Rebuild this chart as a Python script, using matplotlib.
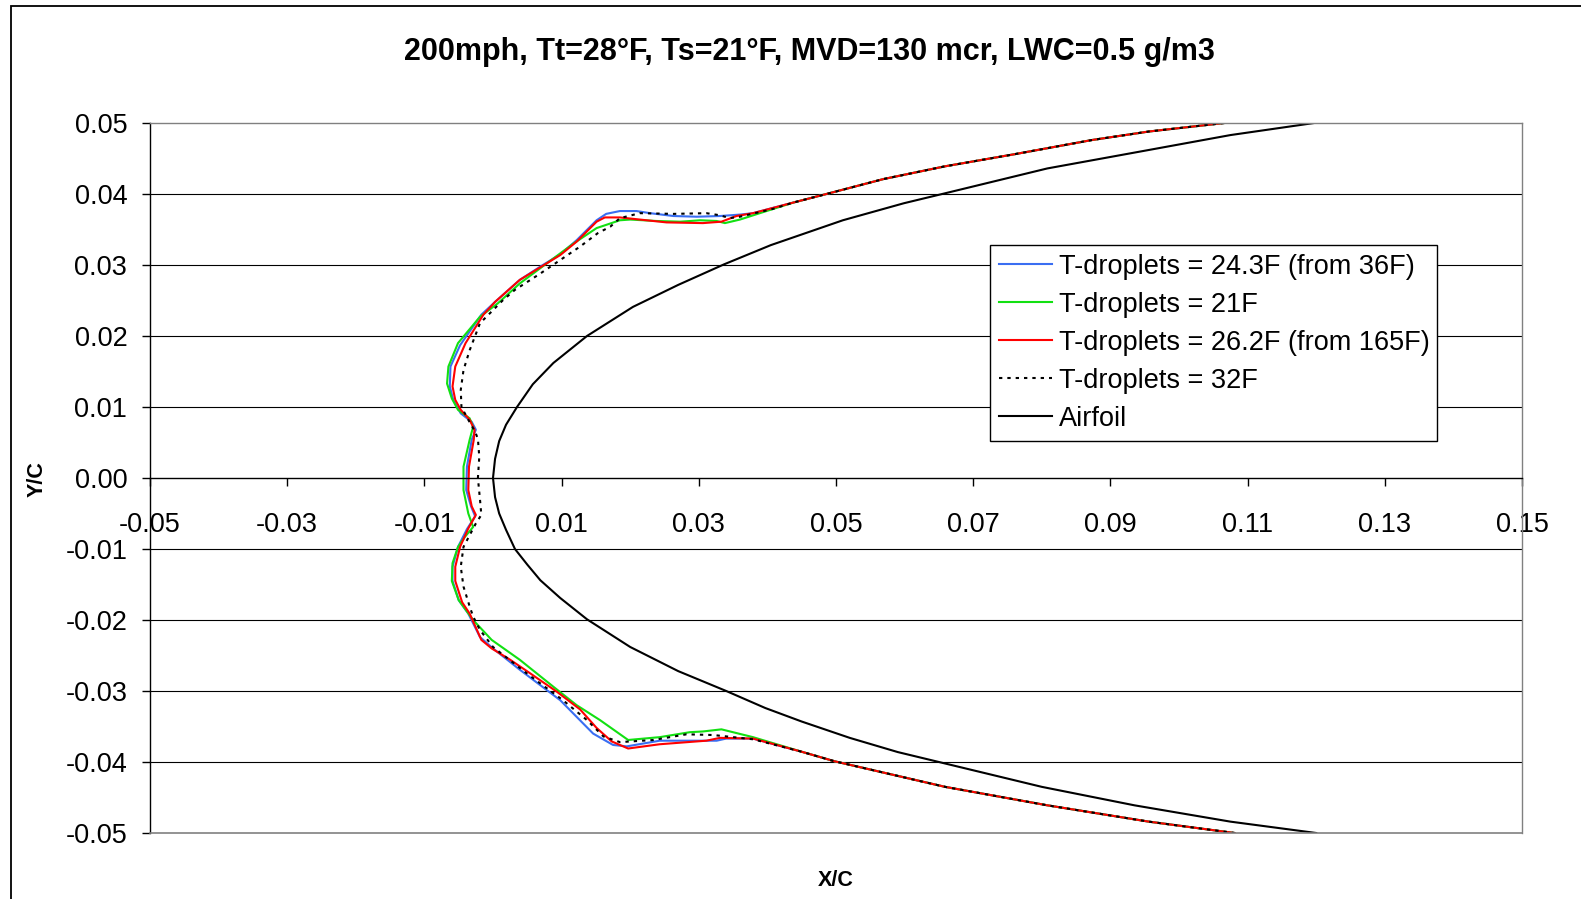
import matplotlib
matplotlib.use("Agg")
import matplotlib.pyplot as plt
from matplotlib.patches import Rectangle

plt.rcParams['font.family'] = ['Liberation Sans', 'DejaVu Sans']
plt.rcParams['axes.unicode_minus'] = False

W, H = 1581, 899

title = "200mph, Tt=28\u00b0F, Ts=21\u00b0F, MVD=130 mcr, LWC=0.5 g/m3"
x_label = "X/C"
y_label = "Y/C"

x_ticks = [-0.05, -0.03, -0.01, 0.01, 0.03, 0.05, 0.07, 0.09, 0.11, 0.13, 0.15]
x_tick_labels = ["-0.05", "-0.03", "-0.01", "0.01", "0.03", "0.05", "0.07", "0.09", "0.11", "0.13", "0.15"]
y_ticks = [0.05, 0.04, 0.03, 0.02, 0.01, 0.00, -0.01, -0.02, -0.03, -0.04, -0.05]
y_tick_labels = ["0.05", "0.04", "0.03", "0.02", "0.01", "0.00", "-0.01", "-0.02", "-0.03", "-0.04", "-0.05"]

series_names = ["T-droplets = 24.3F (from 36F)", "T-droplets = 21F",
                "T-droplets = 26.2F (from 165F)", "T-droplets = 32F", "Airfoil"]

# shared aft parts of the ice shapes
aft_upper_x = [0.1066, 0.0956, 0.0873, 0.0760, 0.0659, 0.0569, 0.0486, 0.0438]
aft_upper_y = [0.0500, 0.0488, 0.0476, 0.0456, 0.0439, 0.0421, 0.0400, 0.0388]
aft_lower_x = [0.0448, 0.0498, 0.0659, 0.0808, 0.0956, 0.1081]
aft_lower_y = [-0.0385, -0.0399, -0.0435, -0.0461, -0.0484, -0.0500]

# T-droplets = 24.3F (blue)
blue_x = [0.0379, 0.0360, 0.0331, 0.0297, 0.0263, 0.0229, 0.0209, 0.0185, 0.0165, 0.0151,
          0.0122, 0.0098, 0.0071, 0.0039, 0.0003, -0.0017, -0.0048, -0.0062, -0.0063, -0.0058,
          -0.0047, -0.0031, -0.0025, -0.0031, -0.0038, -0.0039, -0.0032, -0.0026, -0.0038, -0.0051,
          -0.0059, -0.0059, -0.0050, -0.0036, -0.0019, 0.0000, 0.0039, 0.0098, 0.0146, 0.0175,
          0.0195, 0.0243, 0.0326, 0.0340, 0.0379]
blue_y = [0.0373, 0.0371, 0.0369, 0.0368, 0.0369, 0.0373, 0.0376, 0.0376, 0.0372, 0.0363,
          0.0335, 0.0315, 0.0299, 0.0279, 0.0248, 0.0230, 0.0187, 0.0157, 0.0129, 0.0110,
          0.0091, 0.0079, 0.0068, 0.0054, 0.0016, -0.0017, -0.0040, -0.0054, -0.0072, -0.0097,
          -0.0125, -0.0145, -0.0172, -0.0191, -0.0224, -0.0240, -0.0270, -0.0313, -0.0360, -0.0376,
          -0.0378, -0.0370, -0.0370, -0.0367, -0.0367]

# T-droplets = 21F (green)
green_x = [0.0389, 0.0360, 0.0338, 0.0326, 0.0302, 0.0273, 0.0238, 0.0200, 0.0185, 0.0151,
           0.0117, 0.0078, 0.0039, 0.0007, -0.0019, -0.0051, -0.0065, -0.0067, -0.0060, -0.0051,
           -0.0034, -0.0029, -0.0034, -0.0043, -0.0043, -0.0036, -0.0029, -0.0041, -0.0051, -0.0059,
           -0.0060, -0.0050, -0.0029, -0.0002, 0.0039, 0.0088, 0.0122, 0.0156, 0.0197, 0.0243,
           0.0287, 0.0306, 0.0333, 0.0379]
green_y = [0.0373, 0.0364, 0.0359, 0.0362, 0.0363, 0.0361, 0.0362, 0.0364, 0.0363, 0.0352,
           0.0330, 0.0302, 0.0274, 0.0246, 0.0227, 0.0190, 0.0157, 0.0133, 0.0112, 0.0096,
           0.0084, 0.0072, 0.0054, 0.0016, -0.0017, -0.0050, -0.0069, -0.0083, -0.0097, -0.0120,
           -0.0145, -0.0172, -0.0200, -0.0228, -0.0256, -0.0294, -0.0320, -0.0341, -0.0369, -0.0365,
           -0.0358, -0.0357, -0.0354, -0.0365]

# T-droplets = 26.2F (red)
red_x = [0.0379, 0.0355, 0.0333, 0.0306, 0.0253, 0.0214, 0.0185, 0.0163, 0.0151, 0.0122,
         0.0098, 0.0071, 0.0039, 0.0003, -0.0014, -0.0040, -0.0055, -0.0059, -0.0055, -0.0047,
         -0.0034, -0.0027, -0.0028, -0.0035, -0.0036, -0.0031, -0.0025, -0.0036, -0.0048, -0.0055,
         -0.0055, -0.0045, -0.0034, -0.0017, -0.0002, 0.0025, 0.0054, 0.0093, 0.0127, 0.0151,
         0.0173, 0.0197, 0.0243, 0.0311, 0.0331, 0.0379]
red_y = [0.0373, 0.0369, 0.0361, 0.0359, 0.0360, 0.0364, 0.0367, 0.0367, 0.0361, 0.0333,
         0.0314, 0.0298, 0.0279, 0.0248, 0.0230, 0.0190, 0.0157, 0.0129, 0.0110, 0.0096,
         0.0082, 0.0068, 0.0054, 0.0016, -0.0017, -0.0040, -0.0052, -0.0071, -0.0097, -0.0125,
         -0.0145, -0.0175, -0.0191, -0.0228, -0.0240, -0.0256, -0.0275, -0.0301, -0.0326, -0.0352,
         -0.0371, -0.0381, -0.0375, -0.0370, -0.0366, -0.0367]

# T-droplets = 32F (dotted)
dot_x = [0.0408, 0.0360, 0.0345, 0.0331, 0.0311, 0.0263, 0.0214, 0.0185, 0.0171, 0.0153,
         0.0127, 0.0098, 0.0069, 0.0032, 0.0014, -0.0019, -0.0034, -0.0043, -0.0047, -0.0046,
         -0.0036, -0.0026, -0.0022, -0.0020, -0.0022, -0.0019, -0.0017, -0.0025, -0.0043, -0.0047,
         -0.0043, -0.0034, -0.0029, -0.0019, 0.0000, 0.0049, 0.0102, 0.0137, 0.0161, 0.0185,
         0.0234, 0.0282, 0.0321, 0.0360, 0.0379]
dot_y = [0.0379, 0.0368, 0.0366, 0.0370, 0.0373, 0.0372, 0.0373, 0.0366, 0.0354, 0.0345,
         0.0326, 0.0307, 0.0288, 0.0265, 0.0250, 0.0218, 0.0180, 0.0152, 0.0124, 0.0100,
         0.0082, 0.0065, 0.0055, 0.0030, 0.0000, -0.0030, -0.0052, -0.0064, -0.0097, -0.0125,
         -0.0153, -0.0181, -0.0195, -0.0214, -0.0238, -0.0275, -0.0313, -0.0341, -0.0364, -0.0372,
         -0.0369, -0.0361, -0.0362, -0.0366, -0.0368]

# Airfoil (upper trailing end -> leading edge -> lower trailing end)
airfoil_x = [0.1197, 0.1075, 0.0956, 0.0808, 0.0659, 0.0599, 0.0510, 0.0405, 0.0337, 0.0270,
             0.0204, 0.0137, 0.0088, 0.0058, 0.0035, 0.0019, 0.0009, 0.0003, 0.0000, 0.0003,
             0.0009, 0.0019, 0.0032, 0.0050, 0.0069, 0.0098, 0.0137, 0.0200, 0.0270, 0.0340,
             0.0397, 0.0450, 0.0520, 0.0590, 0.0650, 0.0800, 0.0935, 0.1075, 0.1200]
airfoil_y = [0.0500, 0.0483, 0.0462, 0.0436, 0.0401, 0.0387, 0.0363, 0.0328, 0.0301, 0.0272,
             0.0241, 0.0200, 0.0162, 0.0132, 0.0100, 0.0075, 0.0052, 0.0027, 0.0000, -0.0027,
             -0.0050, -0.0073, -0.0100, -0.0122, -0.0144, -0.0169, -0.0199, -0.0238, -0.0272, -0.0300,
             -0.0324, -0.0343, -0.0366, -0.0386, -0.0400, -0.0435, -0.0461, -0.0484, -0.0500]


def full(mid_x, mid_y):
    return aft_upper_x + mid_x + aft_lower_x, aft_upper_y + mid_y + aft_lower_y


fig = plt.figure(figsize=(W / 100, H / 100), dpi=100)
fig.patch.set_facecolor('white')

# outer chart border
fig.patches.append(Rectangle((11 / W, -0.05), 1.2, 1.05 - 6 / H, transform=fig.transFigure,
                             fill=False, edgecolor='black', lw=1.3))

L, R, T, B = 150, 1522, 123, 833
ax = fig.add_axes([L / W, 1 - B / H, (R - L) / W, (B - T) / H])
ax.set_xlim(-0.05, 0.15)
ax.set_ylim(-0.05, 0.05)

# grid lines
for yv in y_ticks:
    if abs(yv) < 1e-9 or abs(abs(yv) - 0.05) < 1e-9:
        continue
    ax.axhline(yv, color='black', lw=0.8, zorder=0.5)

lw = 1.5
x, y = full(blue_x, blue_y)
ax.plot(x, y, color='#3A6EF2', lw=lw, label=series_names[0], zorder=2)
x, y = full(green_x, green_y)
ax.plot(x, y, color='#12E012', lw=lw, label=series_names[1], zorder=2.1)
x, y = full(red_x, red_y)
ax.plot(x, y, color='#FF0000', lw=lw, label=series_names[2], zorder=2.2)
x, y = full(dot_x, dot_y)
ax.plot(x, y, color='black', lw=1.5, linestyle=(0, (1.6, 2.4)), label=series_names[3], zorder=2.3)
ax.plot(airfoil_x, airfoil_y, color='black', lw=1.5, label=series_names[4], zorder=2.4)

# spines
for s in ['top', 'right']:
    ax.spines[s].set_color('#808080')
    ax.spines[s].set_linewidth(1.0)
ax.spines['left'].set_color('black')
ax.spines['left'].set_linewidth(1.0)
ax.spines['bottom'].set_position(('data', 0))
ax.spines['bottom'].set_color('black')
ax.spines['bottom'].set_linewidth(1.0)
ax.plot([0, 1], [0, 0], transform=ax.transAxes, color='#808080', lw=1.2, clip_on=False, zorder=3)

ax.set_xticks(x_ticks, labels=x_tick_labels)
ax.set_yticks(y_ticks, labels=y_tick_labels)
ax.tick_params(axis='x', direction='out', length=5.8, width=1.0, pad=18.6, labelsize=19.5)
ax.tick_params(axis='y', direction='out', length=5.8, width=1.0, pad=10.5, labelsize=19.5)

fig.text(809 / W, 1 - 52 / H, title, ha='center', va='center', fontsize=22, fontweight='bold')
fig.text(836 / W, 1 - 880 / H, x_label, ha='center', va='center', fontsize=15.5, fontweight='bold')
fig.text(37 / W, 1 - 479 / H, y_label, ha='center', va='center', fontsize=15.5,
         fontweight='bold', rotation=90)

leg = ax.legend(loc='upper left',
                bbox_to_anchor=(990 / W, 1 - 436 / H, 447 / W, 191 / H),
                bbox_transform=fig.transFigure, mode='expand', borderaxespad=0,
                fontsize=19.5, handlelength=1.95, handletextpad=0.26, labelspacing=0.44,
                borderpad=0.33, fancybox=False, framealpha=1, edgecolor='black')
leg.get_frame().set_linewidth(1.0)

fig.savefig('out.png', dpi=100, facecolor='white')
